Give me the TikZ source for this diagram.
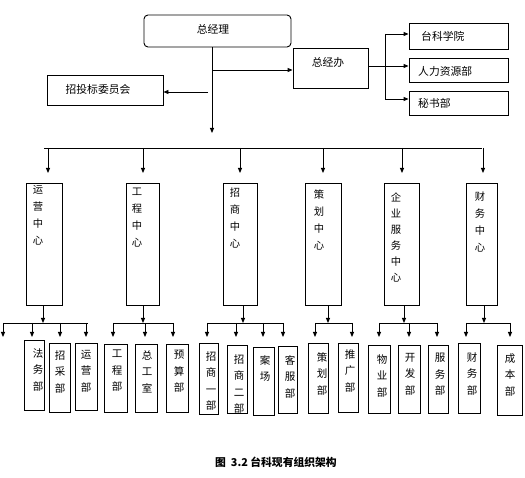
\documentclass[tikz,border=0pt]{standalone}
\usepackage{fontspec}
\setmainfont{Noto Sans CJK SC}
\usetikzlibrary{arrows.meta,fit,calc}
\tikzset{
  box/.style={draw, line width=0.9pt, inner sep=0pt},
  arr/.style={-{Triangle[length=5pt,width=4pt]}, line width=0.9pt},
  ln/.style={line width=0.9pt},
  vt/.style={inner sep=0pt, anchor=north, align=center, font=\fontsize{10.3}{17}\selectfont},
  vs/.style={inner sep=0pt, anchor=north, align=center, font=\fontsize{10.5}{16.5}\selectfont},
  ht/.style={inner sep=0pt, font=\fontsize{10.8}{12}\selectfont},
}
\newcommand\bx[6][]{\node[box,#1, fit={(#3,#4) (#5,#6)}] (#2) {};}
\begin{document}
\begin{tikzpicture}[x=1pt,y=-1pt]
\useasboundingbox[fill=white] (0,0) rectangle (525,478);
% top level
\bx[rounded corners=4pt]{zjl}{144}{15}{291}{47}
\node[ht] (zjlt) at (213,29) {总经理};
\bx{zjb}{293}{48}{368}{88}
\node[ht] (zjbt) at (328,62) {总经办};
\bx{ztb}{47}{75}{163}{105}
\node[ht] (ztbt) at (98,89) {招投标委员会};
\bx{kxy}{409}{23}{508}{49}
\node[ht,anchor=west] (kxyt) at (421,36) {台科学院};
\bx{rlz}{409}{58}{508}{82}
\node[ht,anchor=west] (rlzt) at (418,71) {人力资源部};
\bx{msb}{409}{91}{508}{115}
\node[ht,anchor=west] (msbt) at (418,103) {秘书部};
% top connectors
\coordinate (trunk) at (212,133);
\draw[arr] (zjl.south -| trunk) -- (trunk);
\coordinate (j1) at (212,70);
\coordinate (j2) at (208,92);
\draw[arr] (j1) -- (j1 -| zjb.west);
\draw[arr] (j2) -- (j2 -| ztb.east);
\coordinate (r1) at (385,34);
\coordinate (r2) at (385,66);
\coordinate (r3) at (385,99);
\draw[ln] (r2 -| zjb.east) -- (r2);
\draw[ln] (r1) -- (r3);
\draw[arr] (r1) -- (r1 -| kxy.west);
\draw[arr] (r2) -- (r2 -| rlz.west);
\draw[arr] (r3) -- (r3 -| msb.west);
% bus
\coordinate (busL) at (44,148);
\coordinate (busR) at (482,148);
\draw[ln] (busL) -- (busR);
\foreach \x/\n in {48/a,143/b,240/c,323/d,402/e,483/f}{
  \coordinate (top\n) at (\x,148);
  \draw[arr] (top\n) -- (\x,173);
}
% centre boxes
\bx{yy}{26}{183}{62}{305}
\node[vt] (yyt) at (38,185) {运\\营\\中\\心};
\bx{gc}{126}{183}{159}{305}
\node[vt] (gct) at (137,188) {工\\程\\中\\心};
\bx{zs}{223}{183}{257}{305}
\node[vt] (zst) at (235,188) {招\\商\\中\\心};
\bx{ch}{305}{183}{341}{305}
\node[vt] (cht) at (319,190) {策\\划\\中\\心};
\bx{qy}{384}{183}{419}{305}
\node[vt,font=\fontsize{10.3}{16}\selectfont] (qyt) at (396,193) {企\\业\\服\\务\\中\\心};
\bx{cw}{466}{183}{497}{305}
\node[vt] (cwt) at (480,192) {财\\务\\中\\心};
% stems and bars
\foreach \b/\x/\l/\r in {yy/43/3/88, gc/143/113/173, zs/243/207/283, ch/328/315/353, qy/404/379/438, cw/484/466/510}{
  \coordinate (s\b) at (\x,323);
  \draw[arr] (\b.south -| s\b) -- (s\b);
  \draw[ln] (\l,323) -- (\r,323);
}
\foreach \x in {3,32,60,86, 113,145,173, 207,236,263,283, 315,352, 379,409,437, 466,510}{
  \draw[arr] (\x,323) -- (\x,337);
}
% sub boxes
\bx{fw}{24}{340}{44}{410}
\node[vs] (fwt) at (38,348) {法\\务\\部};
\bx{zc}{49}{343}{70}{412}
\node[vs] (zct) at (60,350) {招\\采\\部};
\bx{yyb}{75}{343}{97}{410}
\node[vs] (yybt) at (86,350) {运\\营\\部};
\bx{gcb}{104}{344}{127}{412}
\node[vs] (gcbt) at (117,350) {工\\程\\部};
\bx{zgs}{135}{344}{157}{412}
\node[vs] (zgst) at (147,350) {总\\工\\室};
\bx{ys}{166}{344}{188}{412}
\node[vs] (yst) at (179,350) {预\\算\\部};
\bx{zs1}{199}{343}{218}{414}
\node[vs] (zs1t) at (211,351) {招\\商\\一\\部};
\bx{zs2}{227}{345}{247}{413}
\node[vs] (zs2t) at (239,354) {招\\商\\二\\部};
\bx{ac}{253}{347}{274}{415}
\node[vs] (act) at (265,355) {案\\场};
\bx{kf}{278}{346}{297}{413}
\node[vs] (kft) at (290,355) {客\\服\\部};
\bx{chb}{308}{343}{328}{413}
\node[vs] (chbt) at (322,352) {策\\划\\部};
\bx{tg}{338}{343}{358}{412}
\node[vs] (tgt) at (350,349) {推\\广\\部};
\bx{wy}{368}{345}{390}{413}
\node[vs] (wyt) at (382,354) {物\\业\\部};
\bx{kfb}{398}{345}{420}{413}
\node[vs] (kfbt) at (410,353) {开\\发\\部};
\bx{fwb}{428}{345}{448}{413}
\node[vs] (fwbt) at (440,353) {服\\务\\部};
\bx{cwb}{458}{343}{480}{413}
\node[vs] (cwbt) at (472,352) {财\\务\\部};
\bx{cb}{497}{345}{522}{415}
\node[vs] (cbt) at (510,353) {成\\本\\部};
% caption
\node[inner sep=0pt, font=\bfseries\fontsize{10.8}{12}\selectfont] (cap) at (276,462) {图\ \ 3.2 台科现有组织架构};
\end{tikzpicture}
\end{document}
